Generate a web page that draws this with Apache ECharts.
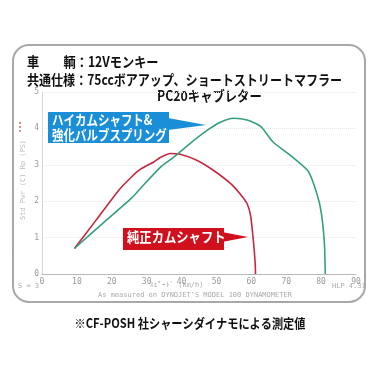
<!DOCTYPE html>
<html><head><meta charset="utf-8">
<script src="https://cdn.jsdelivr.net/npm/echarts@6/dist/echarts.min.js"></script>
<style>html,body{margin:0;padding:0;background:#fff}#c{width:378px;height:378px}</style>
</head><body><div id="c"></div>
<script>
// Data (speed km/h vs power)
var xTicks = [0,10,20,30,40,50,60,70,80,90];
var yTicks = [0,1,2,3,4,5];
var stockSpeed = [9.3, 15.5, 21.9, 25.5, 28.2, 30.5, 31.9, 33.9, 36.8, 39.6, 44.5, 49.1, 54.0, 56.8, 58.8, 59.8, 60.6, 61.1, 61.2];
var stockPower = [0.70, 1.48, 2.29, 2.65, 2.88, 3.00, 3.07, 3.20, 3.31, 3.29, 3.12, 2.85, 2.49, 2.20, 1.93, 1.60, 0.90, 0.30, 0.00];
var camSpeed = [9.3, 17.5, 25.8, 28.2, 33.9, 37.6, 42.5, 47.4, 51.1, 54.9, 58.8, 62.6, 66.3, 71.2, 76.1, 77.8, 79.8, 80.9, 81.2];
var camPower = [0.70, 1.40, 2.10, 2.35, 2.93, 3.20, 3.59, 3.95, 4.17, 4.28, 4.23, 4.06, 3.62, 3.26, 2.85, 2.49, 1.82, 0.91, 0.00];
var titleLine1 = '車　　輌：12Vモンキー';
var titleLine2 = '共通仕様：75ccボアアップ、ショートストリートマフラー';
var titleLine3 = 'PC20キャブレター';
var camLabel = 'ハイカムシャフト&\n強化バルブスプリング';
var stockLabel = '純正カムシャフト';
var footNote = '※CF-POSH 社シャーシダイナモによる測定値';

function pairs(xs, ys){ return xs.map(function(x,i){ return [x, ys[i]]; }); }

var chart = echarts.init(document.getElementById('c'));
var jp = '"Noto Sans CJK JP", sans-serif';
var mono = '7px "DejaVu Sans Mono"';
chart.setOption({
  animation: false,
  backgroundColor: '#fff',
  grid: {left: 42, right: 22, top: 92, bottom: 104},
  xAxis: {
    type: 'value', min: 0, max: 90, interval: 10,
    axisLine: {show: true, onZero: false, lineStyle: {color: '#b8b8b8', width: 1}},
    axisTick: {show: false},
    axisLabel: {color: '#999', fontSize: 8, margin: 4, fontFamily: 'DejaVu Sans Mono'},
    splitLine: {show: false}
  },
  yAxis: {
    type: 'value', min: 0, max: 5, interval: 1,
    axisLine: {show: true, lineStyle: {color: '#cfcfcf', type: 'dotted'}},
    axisTick: {show: false},
    axisLabel: {color: '#999', fontSize: 8, margin: 3, fontFamily: 'DejaVu Sans Mono'},
    splitLine: {show: true, lineStyle: {color: '#e6e6e6', type: 'dotted'}}
  },
  series: [
    {type: 'line', data: pairs(stockSpeed, stockPower), smooth: 0.2, showSymbol: false,
     lineStyle: {color: '#c4283e', width: 1.6}, z: 3},
    {type: 'line', data: pairs(camSpeed, camPower), smooth: 0.2, showSymbol: false,
     lineStyle: {color: '#34a07c', width: 1.6}, z: 3}
  ],
  graphic: [
    {type: 'rect', shape: {x: 13, y: 45, width: 352, height: 257, r: 16},
     style: {fill: 'none', stroke: '#a8a8a8', lineWidth: 2}, z: 0},
    {type: 'text', x: 27, y: 55, scaleX: 0.87, originX: 0, originY: 0,
     style: {text: titleLine1, font: 'bold 14px ' + jp, fill: '#111'}},
    {type: 'text', x: 27, y: 73, scaleX: 0.86, originX: 0, originY: 0,
     style: {text: titleLine2, font: 'bold 14px ' + jp, fill: '#111'}},
    {type: 'text', x: 157, y: 89, scaleX: 0.88, originX: 0, originY: 0,
     style: {text: titleLine3, font: 'bold 14px ' + jp, fill: '#111'}},
    {type: 'polygon', shape: {points: [[168,118],[206,125],[168,130]]}, style: {fill: '#1a8fd8'}, z: 10},
    {type: 'rect', shape: {x: 48, y: 112, width: 121, height: 31}, style: {fill: '#1a8fd8'}, z: 10},
    {type: 'text', x: 52, y: 112, scaleX: 0.82, originX: 0, originY: 0, z: 11,
     style: {text: camLabel, font: 'bold 14px ' + jp, fill: '#fff', lineHeight: 15}},
    {type: 'polygon', shape: {points: [[222,232],[248,237],[222,242]]}, style: {fill: '#d0101c'}, z: 10},
    {type: 'rect', shape: {x: 123, y: 228, width: 101, height: 22}, style: {fill: '#d0101c'}, z: 10},
    {type: 'text', x: 127, y: 230, scaleX: 0.88, originX: 0, originY: 0, z: 11,
     style: {text: stockLabel, font: 'bold 14px ' + jp, fill: '#fff'}},
    {type: 'text', left: 150, top: 282, style: {text: 'ｽﾋﾟｰﾄﾞ (km/h)', font: mono, fill: '#aaa'}},
    {type: 'text', left: 98, top: 292, style: {text: "As measured on DYNOJET'S MODEL 100 DYNAMOMETER", font: mono, fill: '#aaa'}},
    {type: 'text', left: 18, top: 283, style: {text: 'S = 3', font: mono, fill: '#aaa'}},
    {type: 'text', left: 332, top: 283, style: {text: 'HLP 4.31', font: mono, fill: '#aaa'}},
    {type: 'text', x: 20, y: 220, rotation: Math.PI / 2, originX: 0, originY: 0,
     style: {text: 'Std Pwr (C) Hp (PS)', font: mono, fill: '#bbb'}},
    {type: 'text', left: 19, top: 121, style: {text: '■\n■\n■', font: '4px sans-serif', fill: '#c88', lineHeight: 4}},
    {type: 'text', x: 190, y: 317, scaleX: 0.86, originX: 0, originY: 0,
     style: {text: footNote, font: 'bold 13px ' + jp, fill: '#111', align: 'center'}}
  ]
});
</script></body></html>
